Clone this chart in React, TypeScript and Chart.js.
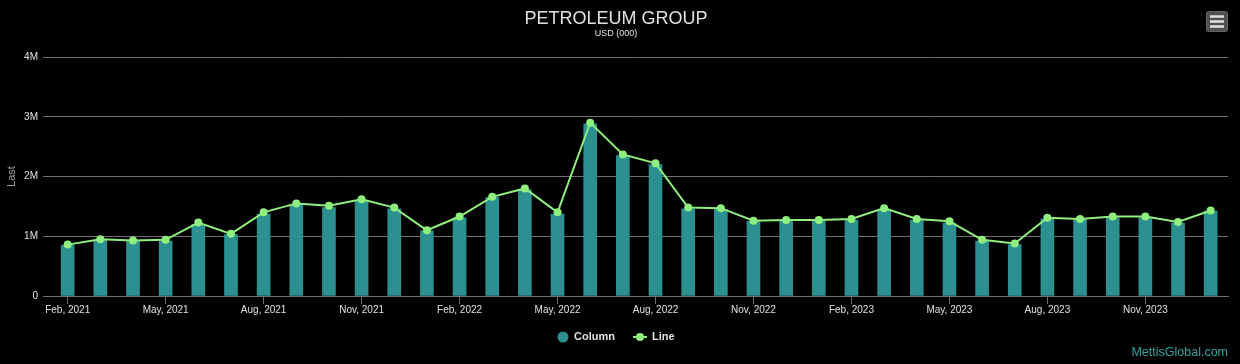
import React, { useEffect, useRef } from "react";
import { Chart, registerables } from "chart.js";

Chart.register(...registerables);

const FONT = "Arial, 'Liberation Sans', Helvetica, sans-serif";

const titleText = "PETROLEUM GROUP";
const subtitleText = "USD (000)";
const yAxisTitle = "Last";
const creditsText = "MettisGlobal.com";
const seriesNames = ["Column", "Line"];

const months = [
  "Feb, 2021", "Mar, 2021", "Apr, 2021", "May, 2021", "Jun, 2021", "Jul, 2021",
  "Aug, 2021", "Sep, 2021", "Oct, 2021", "Nov, 2021", "Dec, 2021", "Jan, 2022",
  "Feb, 2022", "Mar, 2022", "Apr, 2022", "May, 2022", "Jun, 2022", "Jul, 2022",
  "Aug, 2022", "Sep, 2022", "Oct, 2022", "Nov, 2022", "Dec, 2022", "Jan, 2023",
  "Feb, 2023", "Mar, 2023", "Apr, 2023", "May, 2023", "Jun, 2023", "Jul, 2023",
  "Aug, 2023", "Sep, 2023", "Oct, 2023", "Nov, 2023", "Dec, 2023", "Jan, 2024",
];

// values in millions
const columnValues = [
  0.85, 0.93, 0.92, 0.92, 1.20, 1.03, 1.37, 1.53, 1.48, 1.60, 1.46, 1.09,
  1.31, 1.65, 1.78, 1.37, 2.88, 2.35, 2.20, 1.46, 1.45, 1.25, 1.26, 1.26,
  1.27, 1.43, 1.27, 1.22, 0.92, 0.86, 1.29, 1.28, 1.31, 1.31, 1.22, 1.42,
];

const lineValues = [
  0.86, 0.95, 0.93, 0.94, 1.23, 1.04, 1.40, 1.55, 1.51, 1.62, 1.48, 1.10,
  1.33, 1.66, 1.80, 1.40, 2.90, 2.37, 2.22, 1.48, 1.47, 1.26, 1.27, 1.27,
  1.29, 1.47, 1.29, 1.25, 0.94, 0.88, 1.31, 1.29, 1.33, 1.33, 1.24, 1.43,
];

const yTickValues = [0, 1, 2, 3, 4];
const yTickLabels = ["0", "1M", "2M", "3M", "4M"];
const xTickIndices = [0, 3, 6, 9, 12, 15, 18, 21, 24, 27, 30, 33];

const COL_COLOR = "#2b908f";
const LINE_COLOR = "#90ee7e";
const TEXT_COLOR = "#E0E0E3";
const GRID_COLOR = "#707073";

const decorPlugin = {
  id: "decor",
  afterDraw(chart: any) {
    const ctx = chart.ctx as CanvasRenderingContext2D;
    const W = chart.width;
    ctx.save();
    // title
    ctx.fillStyle = TEXT_COLOR;
    ctx.textAlign = "center";
    ctx.textBaseline = "middle";
    ctx.font = `18px ${FONT}`;
    ctx.fillText(titleText, 616, 19);
    ctx.font = `9px ${FONT}`;
    ctx.fillText(subtitleText, 616, 34);

    // legend
    const ly = 337;
    ctx.fillStyle = COL_COLOR;
    ctx.beginPath();
    ctx.arc(563, ly, 5.5, 0, Math.PI * 2);
    ctx.fill();
    ctx.fillStyle = TEXT_COLOR;
    ctx.textAlign = "left";
    ctx.font = `bold 11px ${FONT}`;
    ctx.fillText(seriesNames[0], 574, ly);
    ctx.strokeStyle = LINE_COLOR;
    ctx.lineWidth = 2;
    ctx.beginPath();
    ctx.moveTo(633, ly);
    ctx.lineTo(647, ly);
    ctx.stroke();
    ctx.fillStyle = LINE_COLOR;
    ctx.beginPath();
    ctx.arc(640, ly, 4, 0, Math.PI * 2);
    ctx.fill();
    ctx.fillStyle = TEXT_COLOR;
    ctx.fillText(seriesNames[1], 652, ly);

    // credits
    ctx.fillStyle = "#2fa3a1";
    ctx.textAlign = "right";
    ctx.font = `12.5px ${FONT}`;
    ctx.fillText(creditsText, W - 12, 353);

    // menu button
    ctx.fillStyle = "#505053";
    ctx.strokeStyle = "#666";
    ctx.lineWidth = 1;
    ctx.beginPath();
    (ctx as any).roundRect(1206.5, 11.5, 21, 20, 2);
    ctx.fill();
    ctx.stroke();
    ctx.strokeStyle = TEXT_COLOR;
    ctx.lineWidth = 2.5;
    for (const yy of [16.5, 21.5, 26.5]) {
      ctx.beginPath();
      ctx.moveTo(1210, yy);
      ctx.lineTo(1224, yy);
      ctx.stroke();
    }
    ctx.restore();
  },
};

export default function App() {
  const ref = useRef<HTMLCanvasElement | null>(null);

  useEffect(() => {
    if (!ref.current) return;
    const chart = new Chart(ref.current, {
      type: "bar",
      data: {
        datasets: [
          {
            type: "line",
            label: seriesNames[1],
            data: lineValues.map((v, i) => ({ x: i, y: v })),
            borderColor: LINE_COLOR,
            backgroundColor: LINE_COLOR,
            borderWidth: 2,
            pointRadius: 4,
            pointBorderWidth: 0,
            pointBackgroundColor: LINE_COLOR,
            tension: 0,
            order: 0,
          } as any,
          {
            type: "bar",
            label: seriesNames[0],
            data: columnValues.map((v, i) => ({ x: i, y: v })),
            backgroundColor: COL_COLOR,
            borderWidth: 0,
            barThickness: 13,
            order: 1,
          } as any,
        ],
      },
      options: {
        animation: false,
        responsive: true,
        maintainAspectRatio: false,
        layout: { padding: { top: 57, left: 0, right: 12, bottom: 0 } },
        plugins: {
          legend: { display: false },
          title: { display: false },
          tooltip: { enabled: false },
        },
        scales: {
          x: {
            type: "linear",
            offset: false,
            min: -0.756,
            max: 35.53,
            afterBuildTicks: (scale: any) => {
              scale.ticks = xTickIndices.map((v) => ({ value: v }));
            },
            afterFit: (scale: any) => {
              scale.height = 68;
            },
            ticks: {
              autoSkip: false,
              maxRotation: 0,
              padding: 0,
              color: TEXT_COLOR,
              font: { family: FONT, size: 10 },
              callback: (v: any) => months[v as number] ?? "",
            },
            grid: {
              offset: false,
              drawOnChartArea: false,
              drawTicks: true,
              tickLength: 8,
              color: GRID_COLOR,
              lineWidth: 1,
            },
            border: { display: true, color: GRID_COLOR, width: 1 },
          },
          y: {
            type: "linear",
            min: 0,
            max: 4,
            afterBuildTicks: (scale: any) => {
              scale.ticks = yTickValues.map((v) => ({ value: v }));
            },
            afterFit: (scale: any) => {
              scale.width = 43;
            },
            ticks: {
              padding: 5,
              color: TEXT_COLOR,
              font: { family: FONT, size: 10 },
              callback: (v: any) => yTickLabels[yTickValues.indexOf(v as number)] ?? "",
            },
            grid: {
              color: GRID_COLOR,
              lineWidth: 1,
              drawTicks: false,
            },
            border: { display: false },
            title: {
              display: true,
              text: yAxisTitle,
              color: "#A0A0A3",
              font: { family: FONT, size: 11 },
              padding: { top: 5, bottom: 0 },
            },
          },
        },
      },
      plugins: [decorPlugin],
    });
    return () => chart.destroy();
  }, []);

  return (
    <div
      style={{
        position: "fixed",
        left: 0,
        top: 0,
        width: 1240,
        height: 364,
        background: "#000",
      }}
    >
      <canvas ref={ref} />
    </div>
  );
}
